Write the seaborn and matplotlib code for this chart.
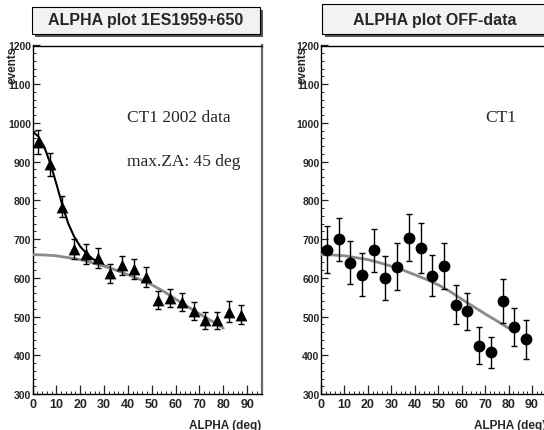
import matplotlib
matplotlib.use("Agg")
import matplotlib.pyplot as plt
from matplotlib import font_manager
from matplotlib.patches import Rectangle
from matplotlib.ticker import MultipleLocator
import seaborn as sns
import pandas as pd

# ---------------- data ----------------
alpha_bins = [2.5, 7.5, 12.5, 17.5, 22.5, 27.5, 32.5, 37.5, 42.5,
              47.5, 52.5, 57.5, 62.5, 67.5, 72.5, 77.5, 82.5, 87.5]
on_counts = [952, 893, 784, 675, 662, 651, 612, 632, 623,
             602, 543, 548, 537, 515, 491, 491, 513, 505]
on_err = [31, 30, 28, 26, 26, 26, 25, 25, 25,
          25, 23, 23, 23, 23, 22, 22, 26, 24]
off_counts = [673, 699, 639, 608, 671, 600, 629, 704, 677,
              606, 630, 531, 514, 425, 408, 540, 473, 441]
off_err = [60, 56, 56, 55, 55, 56, 60, 60, 64,
           54, 60, 50, 48, 47, 40, 57, 50, 50]

bg_fit_x = [0, 5, 10, 15, 20, 25, 30, 35, 40, 45, 50, 55, 60, 65, 70, 75, 80]
bg_fit_y = [660, 659, 657, 652, 647, 639, 630, 620, 608, 596, 582, 565, 545, 526, 507, 489, 470]
sig_fit_x = [0, 2.5, 5, 7.5, 10, 12.5, 15, 17.5, 20, 22.5, 25, 27.5, 30, 32.5]
sig_fit_y = [978, 965, 937, 895, 843, 788, 740, 706, 681, 664, 650, 640, 632, 626]

titles = ["ALPHA plot 1ES1959+650", "ALPHA plot OFF-data"]
notes = [["CT1 2002 data", "max.ZA: 45 deg"], ["CT1"]]
xlabel = "ALPHA (deg)"
ylabel = "events"
y_ticks = [300, 400, 500, 600, 700, 800, 900, 1000, 1100, 1200]
x_ticks = [0, 10, 20, 30, 40, 50, 60, 70, 80, 90]

# ---------------- style ----------------
sns.set_style("ticks")
def has_font(name):
    try:
        font_manager.findfont(name, fallback_to_default=False)
        return True
    except Exception:
        return False

sans = "Liberation Sans Narrow" if has_font("Liberation Sans Narrow") else "Liberation Sans"
serif = "Liberation Serif"
plt.rcParams["font.family"] = [sans, "DejaVu Sans"]

W, H = 544, 431
fig = plt.figure(figsize=(W / 100, H / 100), dpi=100)

def px_axes(x0, x1, ytop, ybot):
    return [x0 / W, 1 - ybot / H, (x1 - x0) / W, (ybot - ytop) / H]

panels = [
    dict(rect=px_axes(32.5, 261.5, 46.5, 395), box=(32, 260, 8, 35),
         note_x=127, ylab_x=13, title_x=146),
    dict(rect=px_axes(321, 546, 46.5, 395), box=(322, 560, 5, 35),
         note_x=485, ylab_x=302, title_x=435),
]

for i, p in enumerate(panels):
    ax = fig.add_axes(p["rect"])
    if i == 0:
        df_curve = pd.DataFrame({"x": sig_fit_x, "y": sig_fit_y})
        sns.lineplot(data=df_curve, x="x", y="y", ax=ax, color="black",
                     lw=1.5, sort=False, zorder=3)
        yv, ye, mk, ms = on_counts, on_err, "^", 8.5
    else:
        yv, ye, mk, ms = off_counts, off_err, "o", 8.5
    df_bg = pd.DataFrame({"x": bg_fit_x, "y": bg_fit_y})
    sns.lineplot(data=df_bg, x="x", y="y", ax=ax, color="#8a8a8a", lw=2.0,
                 sort=False, zorder=4)
    ax.errorbar(alpha_bins, yv, yerr=ye, fmt="none", ecolor="black",
                elinewidth=1.0, capsize=2, capthick=1.0, zorder=5)
    df_pts = pd.DataFrame({"x": alpha_bins, "y": yv})
    sns.scatterplot(data=df_pts, x="x", y="y", ax=ax, marker=mk, s=ms ** 2,
                    color="black", edgecolor="black", linewidth=0, zorder=6)

    ax.set_xlim(0, 96)
    ax.set_ylim(300, 1200)
    ax.set_xticks(x_ticks)
    ax.set_yticks(y_ticks)
    ax.xaxis.set_minor_locator(MultipleLocator(2))
    ax.yaxis.set_minor_locator(MultipleLocator(20))
    ax.tick_params(axis="x", which="major", direction="in", length=6.5,
                   width=0.9, labelsize=9, pad=3, top=False)
    ax.tick_params(axis="x", which="minor", direction="in", length=2.5,
                   width=0.7, top=False)
    ax.tick_params(axis="y", which="major", direction="in", length=5,
                   width=0.9, labelsize=7.5, pad=1, right=False)
    ax.tick_params(axis="y", which="minor", direction="in", length=2.5,
                   width=0.7, right=False)
    for lab in ax.get_xticklabels() + ax.get_yticklabels():
        lab.set_fontweight("bold")
    ax.set_xlabel("")
    ax.set_ylabel("")
    for s in ["left", "bottom", "top"]:
        ax.spines[s].set_visible(True)
        ax.spines[s].set_color("black")
        ax.spines[s].set_linewidth(1.0)
    ax.spines["right"].set_visible(True)
    ax.spines["right"].set_color("#6a6a6a")
    ax.spines["right"].set_linewidth(1.6)

    # notes
    for j, t in enumerate(notes[i]):
        fig.text(p["note_x"] / W, 1 - (118 + 44 * j) / H, t, family=serif,
                 fontsize=12.5, ha="left", va="center")

    # axis labels
    ax.text(1.0, -0.088, xlabel, transform=ax.transAxes, ha="right",
            va="center", fontsize=8.5, fontweight="bold")
    fig.text(p["ylab_x"] / W, 1 - 47 / H, ylabel, rotation=90, ha="center",
             va="top", fontsize=8.5, fontweight="bold")

    # title box with shadow
    bx0, bx1, by0, by1 = p["box"]
    shadow = Rectangle((bx0 / W + 2.5 / W, 1 - (by1 + 2.5) / H),
                       (bx1 - bx0) / W, (by1 - by0) / H,
                       transform=fig.transFigure, facecolor="#555555",
                       edgecolor="none", zorder=1)
    box = Rectangle((bx0 / W, 1 - by1 / H), (bx1 - bx0) / W, (by1 - by0) / H,
                    transform=fig.transFigure, facecolor="#f2f2f2",
                    edgecolor="black", linewidth=0.8, zorder=2)
    fig.patches.extend([shadow, box])
    fig.text(p["title_x"] / W, 1 - 21 / H, titles[i], ha="center", va="center",
             fontsize=11.5, fontweight="bold", zorder=3)

fig.savefig("out.png", dpi=100)
